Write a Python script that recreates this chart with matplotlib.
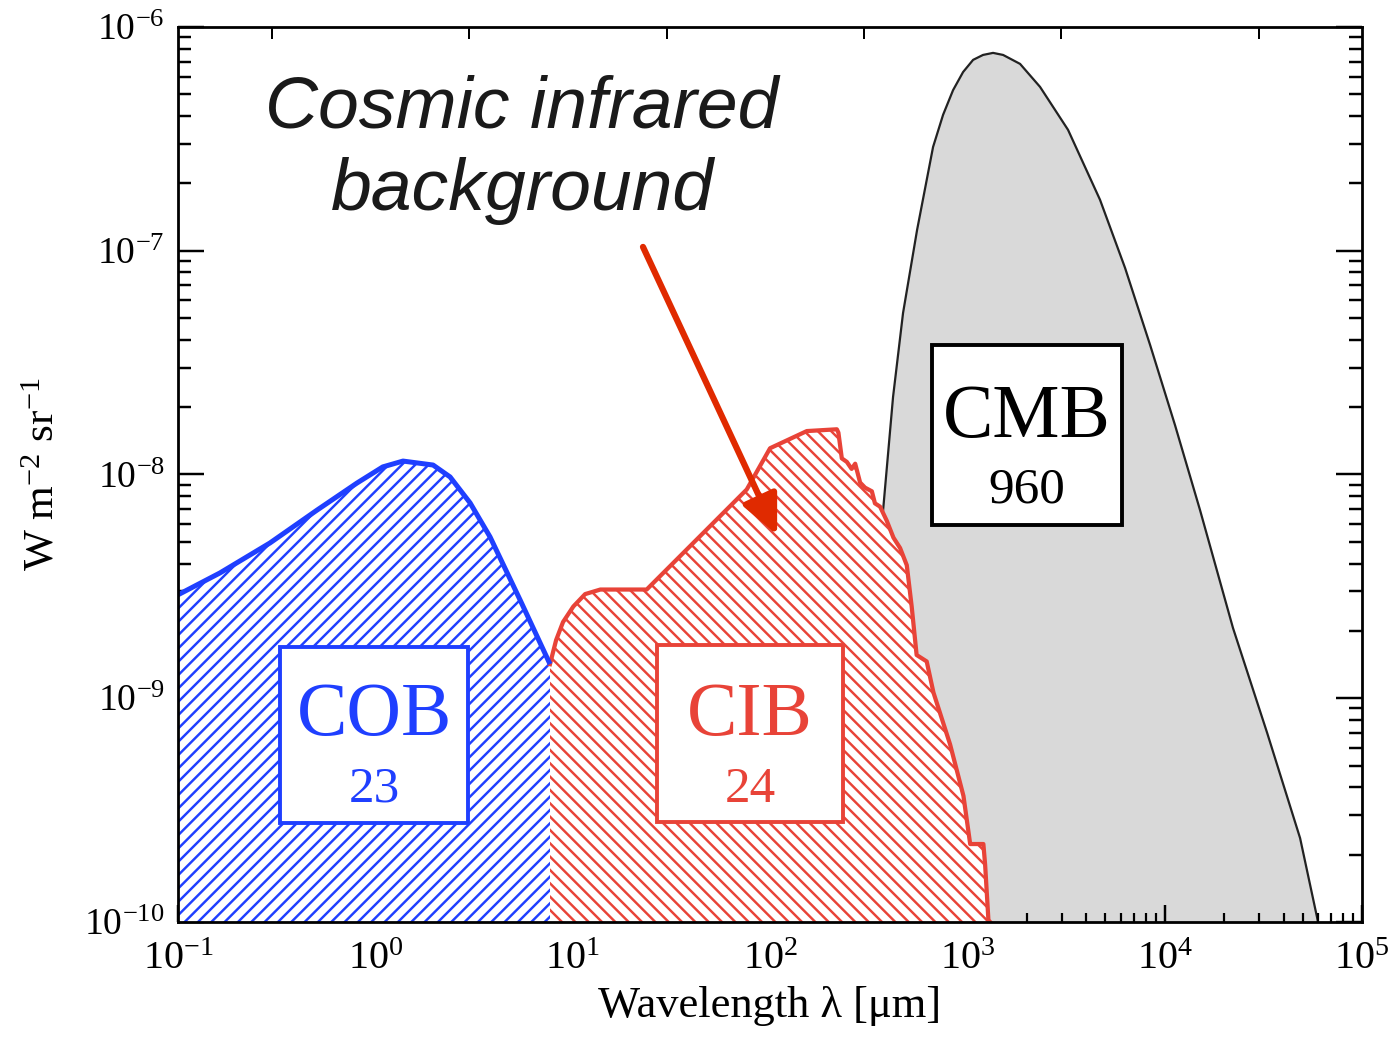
import numpy as np
import matplotlib.pyplot as plt
from matplotlib.patches import Rectangle
from matplotlib.ticker import FixedLocator, NullFormatter, NullLocator

plt.rcParams['font.family'] = 'Liberation Serif'
plt.rcParams['mathtext.fontset'] = 'custom'
plt.rcParams['mathtext.rm'] = 'Liberation Serif'
plt.rcParams['mathtext.it'] = 'Liberation Serif:italic'
plt.rcParams['axes.unicode_minus'] = False
plt.rcParams['hatch.linewidth'] = 2.2

# extragalactic background spectra, nu*I_nu [W m^-2 sr^-1] vs wavelength [um]
cob_wl = [0.1, 0.163, 0.292, 0.506, 0.807, 1.09, 1.38, 1.96, 2.39, 3.02, 3.81, 5.41, 7.67]
cob_i = [2.9e-9, 3.63e-9, 4.94e-9, 6.93e-9, 9.16e-9, 1.081e-8, 1.148e-8, 1.102e-8,
         9.75e-9, 7.46e-9, 5.26e-9, 2.75e-9, 1.42e-9]

cib_wl = [7.67, 8.24, 8.93, 10.07, 11.56, 13.8, 23.7, 76.2, 100, 153.5, 218, 222, 231,
          245, 259, 270, 286, 303, 328, 340, 361, 390, 422, 456, 493, 522, 553, 622,
          673, 817, 955, 1033, 1205, 1230, 1278, 1303]
cib_i = [1.42e-9, 1.82e-9, 2.19e-9, 2.57e-9, 2.92e-9, 3.06e-9, 3.06e-9, 8.57e-9, 1.31e-8,
         1.563e-8, 1.592e-8, 1.538e-8, 1.18e-8, 1.138e-8, 1.059e-8, 1.117e-8, 9.2e-9,
         8.73e-9, 8.41e-9, 7.43e-9, 7.18e-9, 6.22e-9, 5.22e-9, 4.69e-9, 3.93e-9, 2.57e-9,
         1.56e-9, 1.46e-9, 1.06e-9, 6.22e-10, 3.66e-10, 2.23e-10, 2.23e-10, 1.8e-10,
         1.02e-10, 1e-10]

cmb_wl = [244, 374, 420, 472, 556, 670, 753, 846, 951, 1069, 1200, 1349, 1517, 1849,
          2334, 3236, 4699, 6295, 8433, 11280, 15100, 22180, 33040, 48530, 59840]
cmb_i = [1e-10, 6.93e-9, 2.22e-8, 5.27e-8, 1.239e-7, 2.91e-7, 4.05e-7, 5.22e-7, 6.29e-7,
         7.13e-7, 7.5e-7, 7.66e-7, 7.5e-7, 6.84e-7, 5.4e-7, 3.47e-7, 1.69e-7, 8.38e-8,
         3.79e-8, 1.66e-8, 6.93e-9, 2.06e-9, 7.0e-10, 2.37e-10, 1e-10]

labels = ['COB', 'CIB', 'CMB']
totals = ['23', '24', '960']   # integrated intensities, nW m^-2 sr^-1

x_decades = [-1, 0, 1, 2, 3, 4, 5]
y_decades = [-10, -9, -8, -7, -6]

# frequency decades marked on the top axis
nu_ticks = [1e15, 1e14, 1e13, 1e12, 1e11, 1e10]
c_um = 2.998e14

blue = '#1f3fff'
red = '#e84338'
floor = 1e-10


def decade_ticks(decades):
    major = [10.0 ** d for d in decades]
    minor = [m * 10.0 ** d for d in decades[:-1] for m in range(2, 10)]
    return major, minor


fig = plt.figure(figsize=(1389 / 80, 1042 / 80), dpi=80)
ax = fig.add_axes([0.1282, 0.1152, 0.8524, 0.8589])
ax.set_xscale('log')
ax.set_yscale('log')
ax.set_xlim(0.1, 1e5)
ax.set_ylim(1e-10, 1e-6)

# CMB
ax.fill_between(cmb_wl, cmb_i, floor, facecolor='#d9d9d9', edgecolor='none', zorder=1)
ax.plot(cmb_wl, cmb_i, color='#222222', lw=2.0, zorder=1.5, solid_joinstyle='round')

# CIB
ax.fill_between(cib_wl, cib_i, floor, facecolor='white', edgecolor=red, hatch='\\\\',
                linewidth=0, zorder=2)
ax.plot(cib_wl, cib_i, color=red, lw=3.8, zorder=2.5, solid_joinstyle='round')

# COB
ax.fill_between(cob_wl, cob_i, floor, facecolor='white', edgecolor=blue, hatch='//',
                linewidth=0, zorder=2)
ax.plot(cob_wl, cob_i, color=blue, lw=4.5, zorder=2.5, solid_capstyle='butt',
        solid_joinstyle='round')

# labelled boxes
boxes = [(0.0861, 0.1106, 0.1588, 0.1967, blue, 0.1655),
         (0.4046, 0.1117, 0.1571, 0.1978, red, 0.4831),
         (0.6368, 0.4436, 0.1605, 0.2011, 'black', 0.717)]
name_y = [0.2089, 0.2089, 0.5419]
num_y = [0.1341, 0.1341, 0.4682]
for (x0, y0, w, h, col, xc), name, tot, ny, ty in zip(boxes, labels, totals, name_y, num_y):
    ax.add_patch(Rectangle((x0, y0), w, h, transform=ax.transAxes, facecolor='white',
                           edgecolor=col, lw=3.5, zorder=5))
    ax.text(xc, ny, name, transform=ax.transAxes, ha='center', va='baseline',
            fontsize=68, color=col, zorder=6)
    ax.text(xc, ty, tot, transform=ax.transAxes, ha='center', va='baseline',
            fontsize=46, color=col, zorder=6)

# annotation
ax.text(0.2905, 0.8872, 'Cosmic infrared', transform=ax.transAxes, ha='center',
        va='baseline', fontsize=66, style='italic', family='Liberation Sans',
        color='#1a1a1a', zorder=7)
ax.text(0.2905, 0.7955, 'background', transform=ax.transAxes, ha='center',
        va='baseline', fontsize=66, style='italic', family='Liberation Sans',
        color='#1a1a1a', zorder=7)
ax.annotate('', xy=(108.6, 5.37e-9), xytext=(22.7, 1.04e-7),
            arrowprops=dict(arrowstyle='-|>,head_length=1.5,head_width=0.7',
                            mutation_scale=20, color='#e02a00', lw=5.6,
                            shrinkA=0, shrinkB=0),
            zorder=7)

# axes styling
for s in ax.spines.values():
    s.set_linewidth(2.5)
    s.set_zorder(8)
xmaj, xmin = decade_ticks(x_decades)
ymaj, ymin = decade_ticks(y_decades)
ax.set_xticks(xmaj)
ax.set_yticks(ymaj)
ax.xaxis.set_minor_locator(FixedLocator(xmin))
ax.yaxis.set_minor_locator(FixedLocator(ymin))
ax.xaxis.set_minor_formatter(NullFormatter())
ax.yaxis.set_minor_formatter(NullFormatter())
ax.tick_params(which='both', direction='in', top=False, right=True, zorder=8)
ax.tick_params(axis='x', which='major', length=15, width=2.2, pad=17, labelsize=36)
ax.tick_params(axis='x', which='minor', length=8, width=2.0)
ax.tick_params(axis='y', which='major', length=23, width=2.2, pad=12, labelsize=34)
ax.tick_params(axis='y', which='minor', length=12, width=2.2)
ax.set_xlim(0.1, 1e5)
ax.set_ylim(1e-10, 1e-6)

top = ax.twiny()
top.set_xscale('log')
top.set_xlim(ax.get_xlim())
top.set_xticks([c_um / nu for nu in nu_ticks])
top.xaxis.set_minor_locator(NullLocator())
top.tick_params(axis='x', which='major', direction='in', length=11, width=1.8,
                labeltop=False)
for s in top.spines.values():
    s.set_visible(False)

ax.set_xlabel('Wavelength λ [μm]', fontsize=40, labelpad=7)
ax.set_ylabel(r'W m$^{-2}$ sr$^{-1}$', fontsize=39, labelpad=20)

fig.savefig('out.png', dpi=80)
